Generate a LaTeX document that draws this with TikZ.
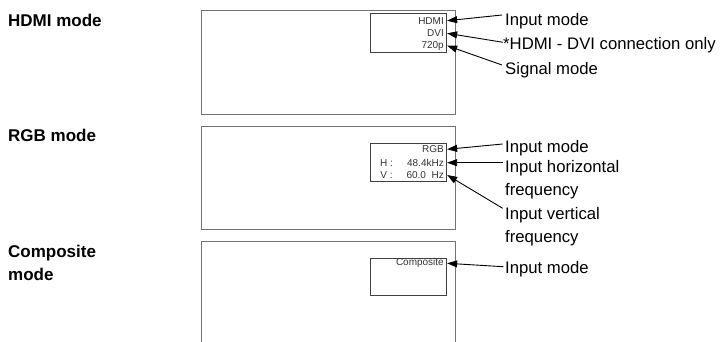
\documentclass[tikz,border=0pt]{standalone}
\usepackage{fontspec}
\setmainfont{Liberation Sans}
\usetikzlibrary{arrows.meta, positioning, calc}

\tikzset{
  screen/.style={draw=black!55, line width=0.9pt},
  osd/.style={draw=black!75, line width=0.9pt, minimum width=76.7pt, inner sep=0pt},
  osdtext/.style={text=black!80, font=\fontsize{10}{12}\selectfont, inner sep=0pt, anchor=east},
  title/.style={font=\fontsize{17}{23.3}\selectfont\bfseries, align=left, inner sep=0pt},
  callout/.style={font=\fontsize{16.7}{22.7}\selectfont, align=left, inner sep=0pt},
  pointer/.style={-{Triangle[length=10pt,width=7pt]}, line width=0.9pt},
}

\begin{document}
\begin{tikzpicture}[x=1pt,y=-1pt]
  \useasboundingbox (0,0) rectangle (726,342);

  % Mode titles
  \node[title, anchor=base west] (tHdmi) at (8,26.7) {HDMI mode};
  \node[title, anchor=base west] (tRgb) at (8,141.7) {RGB mode};
  \node[title, anchor=north west] (tComp) at (8,244.5) {Composite\\mode};

  % Screens
  \draw[screen] (201.7,10.5) rectangle (455,114);
  \draw[screen] (201.7,126.5) rectangle (455,229.5);
  \draw[screen] (201.7,241.5) rectangle (455,352);

  % On-screen info boxes
  \node[osd, minimum height=39.4pt] (hdmiOsd) at (408.35,33) {};
  \node[osd, minimum height=37.7pt] (rgbOsd) at (408.35,162.15) {};
  \node[osd, minimum height=37pt] (compOsd) at (408.35,276.8) {};

  % On-screen texts
  \node[osdtext] (hdmiIn) at (444,20.7) {HDMI};
  \node[osdtext] (hdmiDvi) at (444,33.3) {DVI};
  \node[osdtext] (hdmiSig) at (444,45.7) {720p};
  \node[osdtext] (rgbIn) at (444,149.3) {RGB};
  \node[osdtext] (rgbH) at (444,162.7) {H :\hspace{14.3pt}48.4kHz};
  \node[osdtext] (rgbV) at (444,175) {V :\hspace{13.8pt}60.0\hspace{5.6pt}Hz};
  \node[osdtext] (compIn) at (444,263.3) {Composite};

  % Callouts
  \node[callout, anchor=west] (lHdmiIn) at (505,21) {Input mode};
  \node[callout, anchor=west] (lHdmiDvi) at (503,45) {*HDMI - DVI connection only};
  \node[callout, anchor=west] (lHdmiSig) at (505,70) {Signal mode};
  \node[callout, anchor=west] (lRgbIn) at (505,148) {Input mode};
  \node[callout, anchor=north west] (lRgbH) at (505,160) {Input horizontal\\frequency};
  \node[callout, anchor=north west] (lRgbV) at (505,207) {Input vertical\\frequency};
  \node[callout, anchor=west] (lCompIn) at (505,269) {Input mode};

  % Pointers
  \draw[pointer] ([shift={(-3pt,6pt)}]lHdmiIn.west) -- (hdmiIn.east -| hdmiOsd.east);
  \draw[pointer] ([shift={(0pt,2.7pt)}]lHdmiDvi.west) -- (hdmiDvi.east -| hdmiOsd.east);
  \draw[pointer] ([shift={(-3pt,5pt)}]lHdmiSig.west) -- (hdmiSig.east -| hdmiOsd.east);
  \draw[pointer] ([shift={(-2.3pt,4pt)}]lRgbIn.west) -- (rgbIn.east -| rgbOsd.east);
  \draw[pointer] ([shift={(-2.3pt,-2.7pt)}]lRgbH.north west) -- (rgbH.east -| rgbOsd.east);
  \draw[pointer] ([shift={(-2.3pt,-1.3pt)}]lRgbV.north west) -- (rgbV.east -| rgbOsd.east);
  \draw[pointer] ([shift={(-1.7pt,2.3pt)}]lCompIn.west) -- (compIn.east -| compOsd.east);
\end{tikzpicture}
\end{document}
